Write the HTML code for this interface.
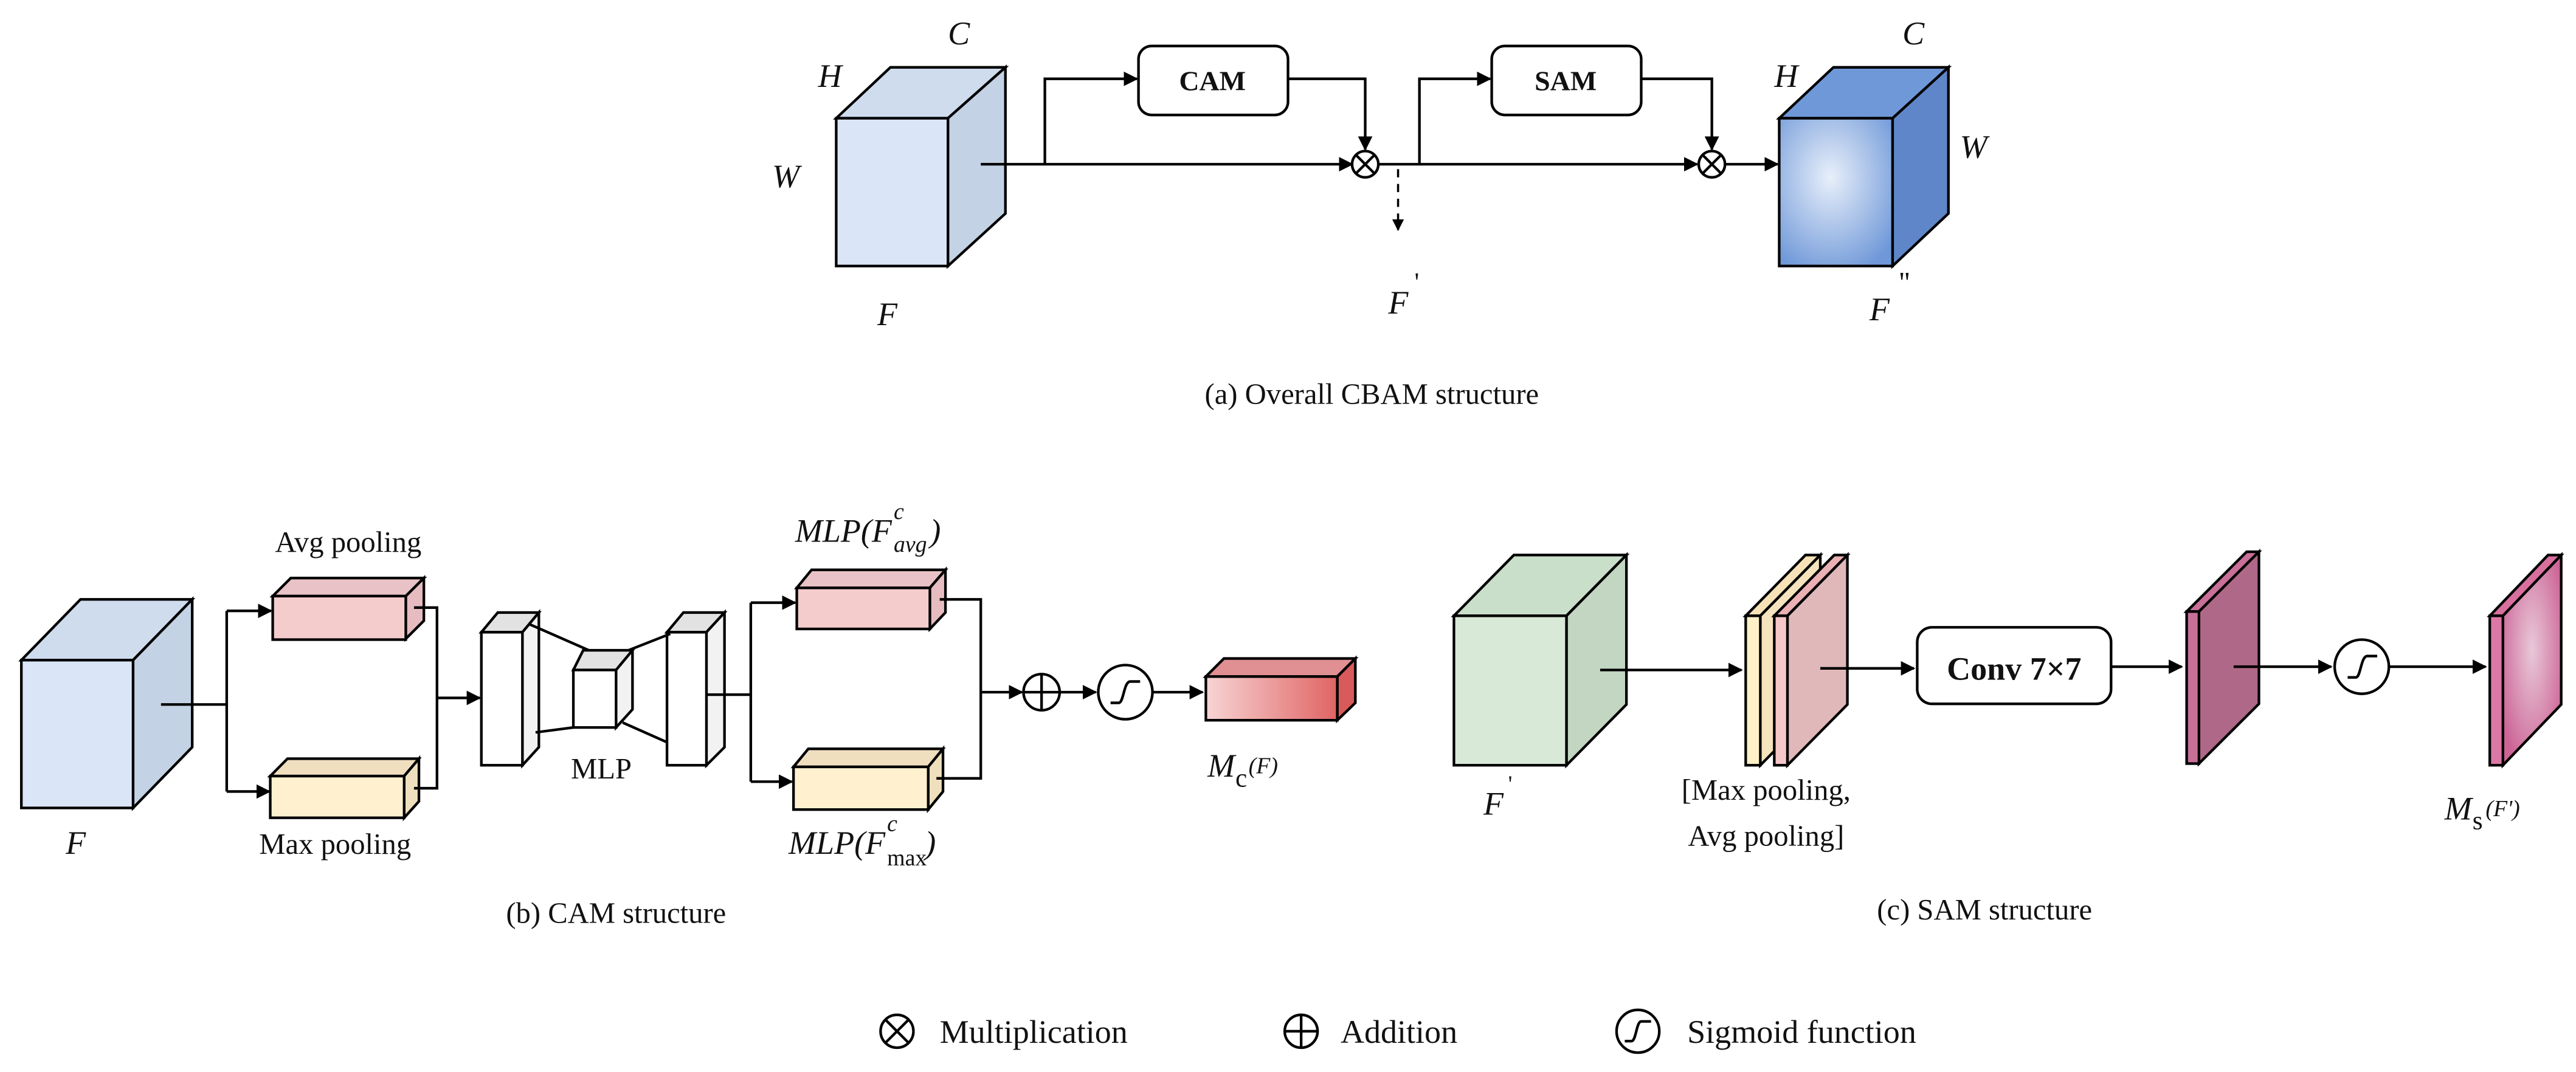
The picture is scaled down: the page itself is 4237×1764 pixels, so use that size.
<!DOCTYPE html>
<html><head><meta charset="utf-8"><style>html,body{margin:0;padding:0;background:#fff}svg{display:block}text{font-family:"Liberation Serif",serif;fill:#111}</style></head><body>
<svg width="4237" height="1764" viewBox="0 0 1568 652.8" xmlns="http://www.w3.org/2000/svg" font-family="Liberation Serif, serif">
<defs>
<marker id="ar" viewBox="0 0 10 10" refX="9" refY="5" markerWidth="5.5" markerHeight="5.5" orient="auto-start-reverse"><path d="M0,0 L10,5 L0,10 z" fill="#000"/></marker>
<radialGradient id="gb" cx="0.45" cy="0.4" r="0.7"><stop offset="0" stop-color="#e8effa"/><stop offset="1" stop-color="#6f98d8"/></radialGradient>
<linearGradient id="gr" x1="0" x2="1"><stop offset="0" stop-color="#f8d4d4"/><stop offset="1" stop-color="#e06464"/></linearGradient>
<radialGradient id="gp" cx="0.5" cy="0.45" r="0.6"><stop offset="0" stop-color="#e8c8d8"/><stop offset="1" stop-color="#cc6496"/></radialGradient>
</defs>
<g stroke="#000" stroke-width="1.6" fill="none">
<polygon points="509,72 542,41 612,41 577,72" fill="#cfdcee"/>
<polygon points="577,72 612,41 612,130 577,162" fill="#c3d2e4"/>
<rect x="509" y="72" width="68" height="90" fill="#dae6f8"/>
<polygon points="1083,72 1116,41 1186,41 1152,72" fill="#6f98d8"/>
<polygon points="1152,72 1186,41 1186,130 1152,162" fill="#5f86c8"/>
<rect x="1083" y="72" width="69" height="90" fill="url(#gb)"/>
<line x1="597" y1="100" x2="823" y2="100" marker-end="url(#ar)"/>
<polyline points="636,100 636,48 692,48" marker-end="url(#ar)"/>
<rect x="693" y="28" width="91" height="42" rx="8" fill="#fff"/>
<polyline points="784,48 831,48 831,91" marker-end="url(#ar)"/>
<circle cx="831" cy="100" r="8" fill="#fff"/>
<line x1="825.3" y1="94.3" x2="836.7" y2="105.7"/><line x1="825.3" y1="105.7" x2="836.7" y2="94.3"/>
<line x1="839" y1="100" x2="1033" y2="100" marker-end="url(#ar)"/>
<polyline points="864,100 864,48 907,48" marker-end="url(#ar)"/>
<rect x="908" y="28" width="91" height="42" rx="8" fill="#fff"/>
<polyline points="999,48 1042,48 1042,91" marker-end="url(#ar)"/>
<circle cx="1042" cy="100" r="8" fill="#fff"/>
<line x1="1036.3" y1="94.3" x2="1047.7" y2="105.7"/><line x1="1036.3" y1="105.7" x2="1047.7" y2="94.3"/>
<line x1="1050" y1="100" x2="1082" y2="100" marker-end="url(#ar)"/>
<line x1="851" y1="103" x2="851" y2="140" stroke-dasharray="5,4" stroke-width="1.3" marker-end="url(#ar)"/>

<polygon points="13,402 49,365 117,365 81,402" fill="#cfdcee"/>
<polygon points="81,402 117,365 117,455 81,492" fill="#c3d2e4"/>
<rect x="13" y="402" width="68" height="90" fill="#dae6f8"/>
<polyline points="98,429 138,429"/>
<polyline points="138,372 138,482"/>
<line x1="138" y1="372" x2="165" y2="372" marker-end="url(#ar)"/>
<line x1="138" y1="482" x2="164" y2="482" marker-end="url(#ar)"/>
<polygon points="166,363 177,352 258,352 247,363" fill="#e8c2c6"/>
<polygon points="247,363 258,352 258,378 247,389" fill="#e6bcc0"/>
<rect x="166" y="363" width="81" height="26.5" fill="#f5cccc"/>
<polygon points="164.5,472.6 175,462 255,462 246,472.6" fill="#f0dfbf"/>
<polygon points="246,472.6 255,462 255,488 246,498" fill="#efdfbc"/>
<rect x="164.5" y="472.6" width="81.5" height="25.4" fill="#fff1cf"/>
<polyline points="252,370 266,370 266,480 252,480"/>
<line x1="266" y1="425" x2="292" y2="425" marker-end="url(#ar)"/>
<polygon points="293,385 303,373 328,373 318,385" fill="#e2e2e2"/>
<polygon points="318,385 328,373 328,455 318,466" fill="#f2f2f2"/>
<rect x="293" y="385" width="25" height="81" fill="#fff"/>
<polygon points="406,385 416,373 441,373 430,385" fill="#e2e2e2"/>
<polygon points="430,385 441,373 441,455 430,466" fill="#f2f2f2"/>
<rect x="406" y="385" width="24" height="81" fill="#fff"/>
<line x1="322" y1="380" x2="363" y2="398"/><line x1="380" y1="397" x2="408" y2="386"/>
<line x1="326" y1="446" x2="349" y2="443"/><line x1="379" y1="440" x2="406" y2="452"/>
<polygon points="349,408 355,396 385,396 375,408" fill="#e2e2e2"/>
<polygon points="375,408 385,396 385,432 375,443" fill="#f2f2f2"/>
<rect x="349" y="408" width="26" height="35" fill="#fff"/>
<line x1="430" y1="423" x2="457" y2="423"/>
<polyline points="457,367 457,476"/>
<line x1="457" y1="367" x2="484" y2="367" marker-end="url(#ar)"/>
<line x1="457" y1="476" x2="482" y2="476" marker-end="url(#ar)"/>
<polygon points="485,358 494,347 575.5,347 566,358" fill="#e8c2c6"/>
<polygon points="566,358 575.5,347 575.5,373 566,383" fill="#e6bcc0"/>
<rect x="485" y="358" width="81" height="25" fill="#f5cccc"/>
<polygon points="483,467 492,456 574,456 565,467" fill="#f0dfbf"/>
<polygon points="565,467 574,456 574,482 565,493" fill="#efdfbc"/>
<rect x="483" y="467" width="82" height="26" fill="#fff1cf"/>
<polyline points="572,365 597,365 597,474 570,474"/>
<line x1="597" y1="421.5" x2="622" y2="421.5" marker-end="url(#ar)"/>
<circle cx="634" cy="421.5" r="11" fill="#fff"/>
<line x1="623" y1="421.5" x2="645" y2="421.5"/><line x1="634" y1="410.5" x2="634" y2="432.5"/>
<line x1="645" y1="421.5" x2="667" y2="421.5" marker-end="url(#ar)"/>
<circle cx="685" cy="421.5" r="16.5" fill="#fff"/>
<path d="M676,428 H681 C684,428 684,415 688,415 H694" />
<line x1="702" y1="421.5" x2="732" y2="421.5" marker-end="url(#ar)"/>
<polygon points="734,412 745,401 825,401 814,412" fill="#e08f92"/>
<polygon points="814,412 825,401 825,428 814,438.6" fill="#d85a5a"/>
<rect x="734" y="412" width="80" height="26.6" fill="url(#gr)"/>

<polygon points="885,375 921.5,338 990,338 953.5,375" fill="#cadfca"/>
<polygon points="953.5,375 990,338 990,429 953.5,466" fill="#c2d6c2"/>
<rect x="885" y="375" width="68.5" height="91" fill="#d8e9d8"/>
<line x1="974" y1="408" x2="1060" y2="408" marker-end="url(#ar)"/>
<polygon points="1062.6,375 1099,338 1108,338 1071.5,375" fill="#f6e2b6"/>
<polygon points="1071.5,375 1108,338 1108,429 1071.5,466" fill="#f4e3bc"/>
<rect x="1062.6" y="375" width="8.9" height="91" fill="#fff0c8"/>
<polygon points="1080,375 1116.5,338 1124.5,338 1088,375" fill="#eab0b4"/>
<polygon points="1088,375 1124.5,338 1124.5,429 1088,466" fill="#e0b8ba"/>
<rect x="1080" y="375" width="8" height="91" fill="#f6c6c8"/>
<line x1="1108" y1="407" x2="1165" y2="407" marker-end="url(#ar)"/>
<rect x="1167" y="382" width="118" height="46.6" rx="9" fill="#fff"/>
<line x1="1285" y1="406" x2="1328" y2="406" marker-end="url(#ar)"/>
<polygon points="1331,372.4 1367.5,336 1375,336 1338.5,372.4" fill="#c87098"/>
<polygon points="1338.5,372.4 1375,336 1375,428.6 1338.5,465" fill="#b06888"/>
<rect x="1331" y="372.4" width="7.5" height="92.6" fill="#c87098"/>
<line x1="1359.6" y1="406" x2="1419" y2="406" marker-end="url(#ar)"/>
<circle cx="1437.6" cy="406" r="16.5" fill="#fff"/>
<path d="M1429,412.5 H1434 C1437,412.5 1437,399.5 1441,399.5 H1447" />
<line x1="1454" y1="406" x2="1513" y2="406" marker-end="url(#ar)"/>
<polygon points="1515.5,375 1551,338 1559,338 1523.5,375" fill="#d8709e"/>
<polygon points="1523.5,375 1559,338 1559,429 1523.5,466" fill="url(#gp)"/>
<rect x="1515.5" y="375" width="8" height="91" fill="#dc78a6"/>

<circle cx="546" cy="628" r="10" fill="#fff"/>
<line x1="539" y1="621" x2="553" y2="635"/><line x1="539" y1="635" x2="553" y2="621"/>
<circle cx="792" cy="628" r="10" fill="#fff"/>
<line x1="782" y1="628" x2="802" y2="628"/><line x1="792" y1="618" x2="792" y2="638"/>
<circle cx="997" cy="628" r="13" fill="#fff"/>
<path d="M989,634 H993 C996,634 996,622 999,622 H1005"/>
</g>
<g font-size="20" font-style="italic" font-family="Liberation Serif, serif">
<text x="498" y="53">H</text><text x="577" y="27">C</text><text x="470" y="114">W</text><text x="534" y="198">F</text>
<text x="845" y="191">F</text><text x="861" y="177" font-size="16" font-style="normal">'</text>
<text x="1080" y="53">H</text><text x="1158" y="27">C</text><text x="1193" y="96">W</text>
<text x="1138" y="195">F</text><text x="1156" y="178" font-size="18" font-style="normal">''</text>
<text x="40" y="520">F</text>
<text x="903" y="496">F</text><text x="918" y="482" font-size="14" font-style="normal">'</text>
</g>
<g font-size="18" text-anchor="middle" font-family="Liberation Serif, serif">
<text x="738" y="55" font-weight="bold" font-size="17">CAM</text>
<text x="953" y="55" font-weight="bold" font-size="17">SAM</text>
<text x="835" y="246">(a) Overall CBAM structure</text>
<text x="212" y="336">Avg pooling</text>
<text x="204" y="520">Max pooling</text>
<text x="366" y="474">MLP</text>
<text x="375" y="562">(b) CAM structure</text>
<text x="1226" y="414" font-weight="bold" font-size="20">Conv 7×7</text>
<text x="1075" y="487">[Max pooling,</text>
<text x="1075" y="515">Avg pooling]</text>
<text x="1208" y="560">(c) SAM structure</text>
</g>
<g font-size="20" font-family="Liberation Serif, serif">
<text x="484" y="330" font-style="italic">MLP(F</text><text x="544" y="316" font-size="14" font-style="italic">c</text><text x="544" y="336" font-size="14" font-style="italic">avg</text><text x="566" y="330" font-style="italic">)</text>
<text x="480" y="520" font-style="italic">MLP(F</text><text x="540" y="506" font-size="14" font-style="italic">c</text><text x="540" y="527" font-size="14">max</text><text x="563" y="520" font-style="italic">)</text>
<text x="735" y="473" font-style="italic">M</text><text x="752" y="479" font-size="16">c</text><text x="760" y="471" font-size="14" font-style="italic">(F)</text>
<text x="1488" y="499" font-style="italic">M</text><text x="1505" y="505" font-size="16">s</text><text x="1513" y="497" font-size="14" font-style="italic">(F')</text>
<text x="572" y="635">Multiplication</text>
<text x="816" y="635">Addition</text>
<text x="1027" y="635">Sigmoid function</text>
</g>
</svg>
</body></html>
